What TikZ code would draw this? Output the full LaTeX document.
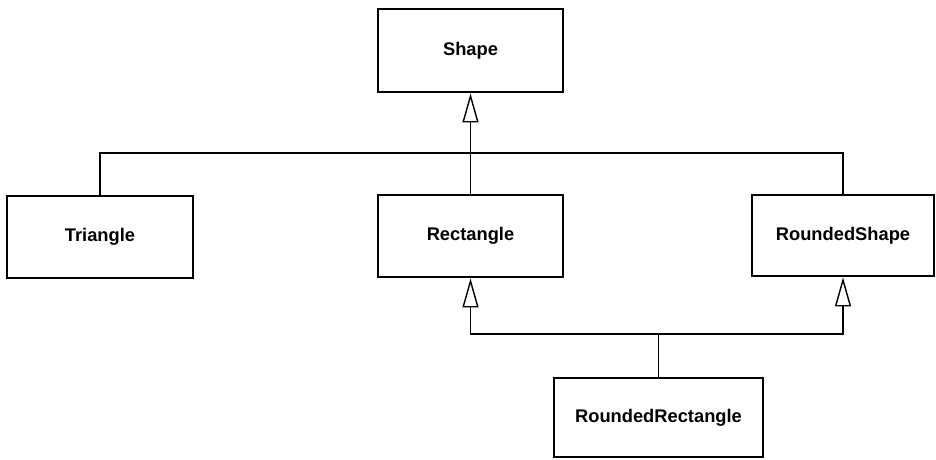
\documentclass[tikz,border=0pt]{standalone}
\usepackage{fontspec}
\setmainfont{Liberation Sans}
\usetikzlibrary{arrows.meta}
\begin{document}
\begin{tikzpicture}[x=1pt,y=1pt,
  cls/.style={draw, line width=2.8pt, minimum height=#1, inner sep=0pt, font=\fontsize{18.3}{21}\selectfont\bfseries},
  conn/.style={line width=1.4pt},
  inh/.style={conn, -{Triangle[open, length=29pt, width=16pt, line width=1.4pt]}}]
\useasboundingbox (0,0) rectangle (936,459);
\node[cls=83pt, minimum width=185pt] (shape) at (470.5,408.5) {Shape};
\node[cls=82pt, minimum width=186pt] (tri) at (100,222) {Triangle};
\node[cls=82pt, minimum width=185pt] (rect) at (470.5,223) {Rectangle};
\node[cls=81pt, minimum width=182pt] (rs) at (843,223.5) {RoundedShape};
\node[cls=79pt, minimum width=209pt] (rr) at (658.5,41.5) {RoundedRectangle};
\coordinate (j1) at (470.5,306);
\coordinate (j2) at (658.5,125);
\draw[conn] (tri.north) |- (j1) -| (rs.north);
\draw[inh] (rect.north) -- (shape.south);
\draw[conn] (rr.north) -- (j2);
\draw[inh] (j2) -| (rect.south);
\draw[inh] (j2) -| (rs.south);
\end{tikzpicture}
\end{document}
